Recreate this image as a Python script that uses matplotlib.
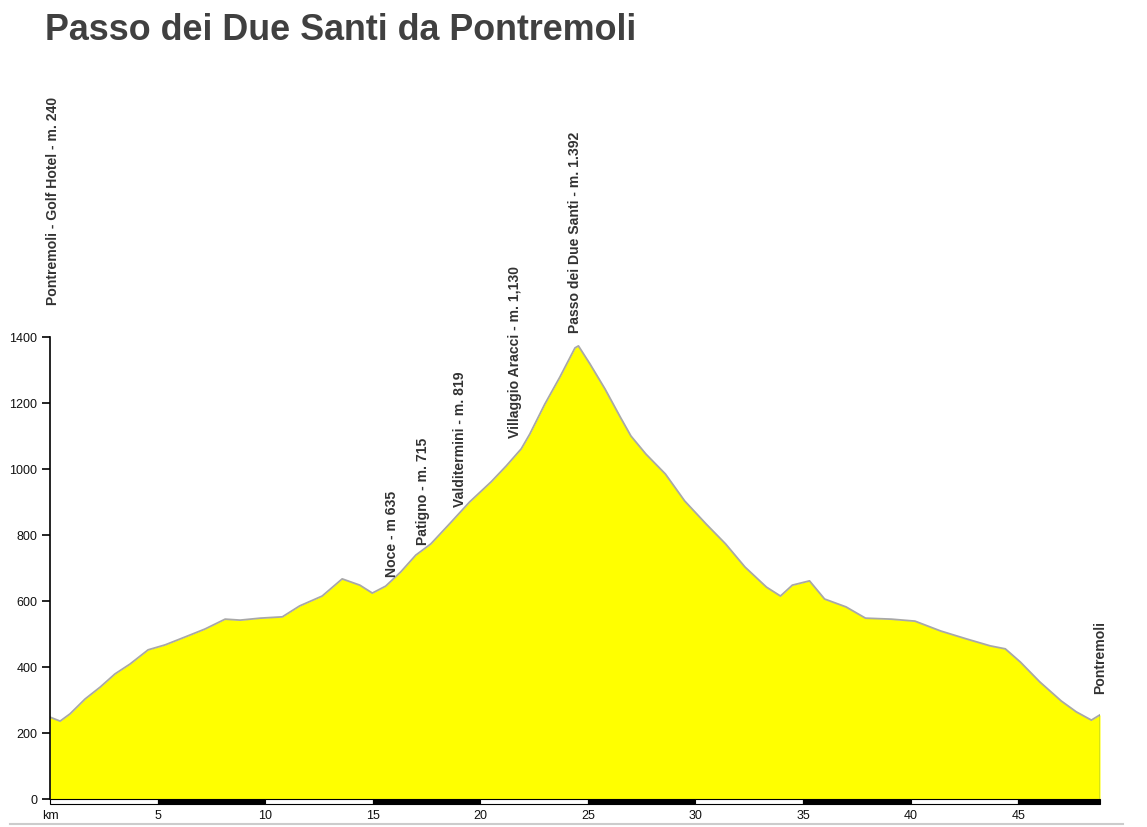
import numpy as np
import matplotlib
matplotlib.use("Agg")
import matplotlib.pyplot as plt
from matplotlib.patches import Rectangle
from matplotlib.lines import Line2D
import matplotlib.transforms as mtransforms

plt.rcParams['font.family'] = ['Liberation Sans', 'DejaVu Sans']

# profile: distance (km) and elevation (m)
km = [0.0, 0.47, 0.93, 1.63, 2.33, 3.02, 3.72, 4.56, 5.35, 6.28, 7.2, 8.14, 8.84,
      9.77, 10.8, 11.6, 12.65, 13.58, 14.4, 14.98, 15.6, 16.3, 17.0, 17.7, 18.6,
      19.5, 20.5, 21.2, 21.9, 22.3, 23.0, 23.7, 24.4, 24.56, 25.1, 25.8, 26.5,
      27.0, 27.7, 28.6, 29.5, 30.5, 31.4, 32.3, 33.3, 33.95, 34.5, 35.3, 36.0,
      37.0, 37.9, 39.1, 40.2, 41.4, 42.6, 43.7, 44.4, 45.1, 46.0, 47.0, 47.7,
      48.4, 48.8]
elev = [248, 236, 258, 303, 339, 379, 409, 452, 467, 491, 515, 545, 542,
        548, 552, 585, 615, 667, 648, 624, 645, 688, 739, 773, 836,
        900, 961, 1009, 1061, 1106, 1197, 1279, 1367, 1373, 1318, 1242, 1158,
        1100, 1045, 985, 903, 833, 773, 703, 642, 615, 648, 661, 606,
        582, 548, 545, 539, 509, 485, 464, 455, 415, 355, 297, 264,
        239, 255]

# waypoints
wp_names = ["Pontremoli - Golf Hotel - m. 240", "Noce - m 635", "Patigno - m. 715",
            "Valditermini - m. 819", "Villaggio Aracci - m. 1,130",
            "Passo dei Due Santi - m. 1.392", "Pontremoli"]
wp_km = [0.14, 15.9, 17.35, 19.07, 21.6, 24.4, 48.8]
wp_label_y = [1500, 676, 773, 888, 1097, 1415, 321]

xticks = [0, 5, 10, 15, 20, 25, 30, 35, 40, 45]
xlabels = ["km", "5", "10", "15", "20", "25", "30", "35", "40", "45"]
yticks = [0, 200, 400, 600, 800, 1000, 1200, 1400]

fig = plt.figure(figsize=(11.47, 8.28), dpi=100)
ax = fig.add_axes([50/1147, 28/828, 1050/1147, 462/828])

ax.fill_between(km, elev, 0, color='#ffff00', linewidth=0)
ax.plot(km, elev, color='#a8a8a8', linewidth=1.3)
ax.plot([km[-1], km[-1]], [0, elev[-1]], color='#2a7a6a', linewidth=1)

ax.set_xlim(0, km[-1])
ax.set_ylim(0, 1400)

for s in ['top', 'right', 'bottom']:
    ax.spines[s].set_visible(False)
ax.spines['left'].set_linewidth(1.2)

ax.set_yticks(yticks)
ax.set_yticklabels([str(v) for v in yticks], fontsize=9, color='#111111')
ax.tick_params(axis='y', length=6, width=1.2, pad=3)

ax.set_xticks(xticks)
ax.set_xticklabels(xlabels, fontsize=9, color='#111111')
ax.tick_params(axis='x', length=0, pad=7)

# distance bar
trans = mtransforms.blended_transform_factory(ax.transData, ax.transAxes)
for i, start in enumerate(xticks):
    end = min(start + 5, km[-1])
    col = 'white' if i % 2 == 0 else 'black'
    ax.add_patch(Rectangle((start, -0.011), end - start, 0.011, transform=trans,
                           facecolor=col, edgecolor='black', linewidth=0.8,
                           clip_on=False))

for name, x, y in zip(wp_names, wp_km, wp_label_y):
    ax.text(x, y, name, rotation=90, ha='center', va='bottom', fontsize=10.1,
            fontweight='bold', color='#333333', clip_on=False)

fig.text(45/1147, 1 - 31/828, "Passo dei Due Santi da Pontremoli", fontsize=25.8,
         fontweight='bold', color='#404040', ha='left', va='center')

fig.add_artist(Line2D([10/1147, 1123/1147], [1 - 825/828, 1 - 825/828],
                      color='#cccccc', linewidth=1.5, transform=fig.transFigure))

fig.savefig("out.png", dpi=100)
